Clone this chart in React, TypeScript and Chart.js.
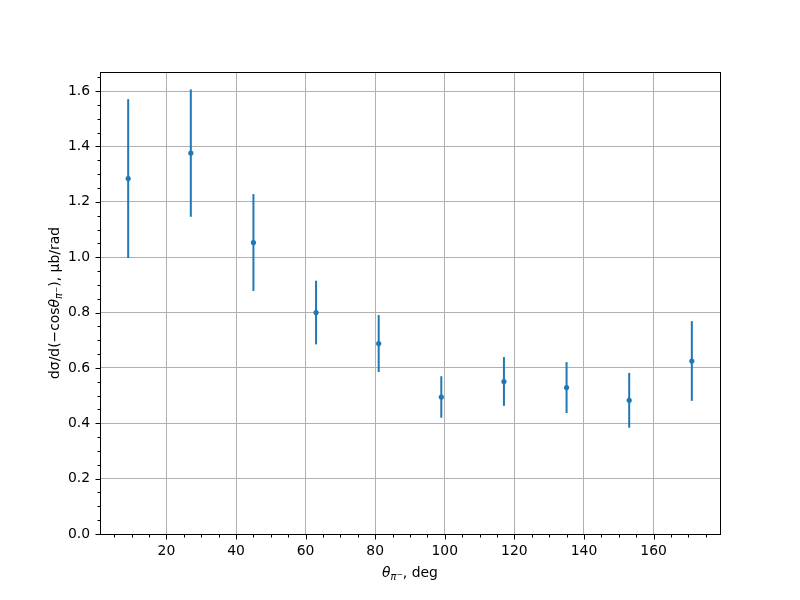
import React, { useEffect, useRef } from "react";
import { Chart, registerables } from "chart.js";

Chart.register(...registerables);

const angles = [9, 27, 45, 63, 81, 99, 117, 135, 153, 171];
const crossSection = [1.284, 1.376, 1.053, 0.8, 0.688, 0.495, 0.551, 0.529, 0.483, 0.625];
const errors = [0.287, 0.23, 0.175, 0.115, 0.103, 0.075, 0.088, 0.092, 0.099, 0.144];

const xMajorTicks = [20, 40, 60, 80, 100, 120, 140, 160];
const xMinorStep = 5;
const yMajorTicks = [0, 0.2, 0.4, 0.6, 0.8, 1.0, 1.2, 1.4, 1.6];
const yMinorStep = 0.05;

const X_MIN = 0.9;
const X_MAX = 179.1;
const Y_MIN = 0;
const Y_MAX = 1.669;

const BLUE = "#1f77b4";
const FONT = "'DejaVu Sans', sans-serif";
const FS = 13.9;

type Part = { t: string; italic?: boolean; scale?: number; dy?: number };

function drawParts(ctx: CanvasRenderingContext2D, parts: Part[], x: number, y: number) {
  const fontOf = (p: Part) => `${p.italic ? "italic " : ""}${FS * (p.scale || 1)}px ${FONT}`;
  let total = 0;
  const widths = parts.map((p) => {
    ctx.font = fontOf(p);
    const w = ctx.measureText(p.t).width;
    total += w;
    return w;
  });
  let cx = x - total / 2;
  ctx.textAlign = "left";
  ctx.textBaseline = "alphabetic";
  parts.forEach((p, i) => {
    ctx.font = fontOf(p);
    ctx.fillText(p.t, cx, y + (p.dy || 0));
    cx += widths[i];
  });
}

const isMajor = (v: number, step: number) => Math.abs(v / step - Math.round(v / step)) < 1e-6;

const subParts: Part[] = [
  { t: "θ", italic: true },
  { t: "π", italic: true, scale: 0.7, dy: 2.5 },
  { t: "−", scale: 0.55, dy: -0.5 },
];

const decorPlugin = {
  id: "decor",
  beforeDatasetsDraw(chart: any) {
    const ctx = chart.ctx as CanvasRenderingContext2D;
    const xs = chart.scales.x;
    const ys = chart.scales.y;
    ctx.save();
    ctx.strokeStyle = BLUE;
    ctx.lineWidth = 2;
    angles.forEach((a, i) => {
      const px = xs.getPixelForValue(a);
      const top = ys.getPixelForValue(crossSection[i] + errors[i]);
      const bot = ys.getPixelForValue(crossSection[i] - errors[i]);
      ctx.beginPath();
      ctx.moveTo(px, top);
      ctx.lineTo(px, bot);
      ctx.stroke();
    });
    ctx.restore();
  },
  afterDraw(chart: any) {
    const ctx = chart.ctx as CanvasRenderingContext2D;
    const { left, right, top, bottom } = chart.chartArea;
    const xs = chart.scales.x;
    const ys = chart.scales.y;
    ctx.save();
    // frame
    ctx.strokeStyle = "#000";
    ctx.lineWidth = 1;
    ctx.strokeRect(Math.round(left) + 0.5, Math.round(top) + 0.5, Math.round(right - left), Math.round(bottom - top));
    // ticks
    xs.ticks.forEach((t: any) => {
      const px = Math.round(xs.getPixelForValue(t.value)) + 0.5;
      const len = isMajor(t.value, 20) ? 5 : 3;
      ctx.beginPath();
      ctx.moveTo(px, Math.round(bottom) + 0.5);
      ctx.lineTo(px, Math.round(bottom) + 0.5 + len);
      ctx.stroke();
    });
    ys.ticks.forEach((t: any) => {
      const py = Math.round(ys.getPixelForValue(t.value)) + 0.5;
      const len = isMajor(t.value, 0.2) ? 5 : 3;
      ctx.beginPath();
      ctx.moveTo(Math.round(left) + 0.5, py);
      ctx.lineTo(Math.round(left) + 0.5 - len, py);
      ctx.stroke();
    });
    // axis titles
    ctx.fillStyle = "#000";
    drawParts(ctx, [...subParts, { t: ", deg" }], (left + right) / 2, 577);
    ctx.save();
    ctx.translate(59, (top + bottom) / 2);
    ctx.rotate(-Math.PI / 2);
    drawParts(ctx, [{ t: "dσ/d(−cos" }, ...subParts, { t: "), μb/rad" }], 0, 0);
    ctx.restore();
    ctx.restore();
  },
};

export default function App() {
  const ref = useRef<HTMLCanvasElement | null>(null);
  useEffect(() => {
    document.body.style.margin = "0";
    if (!ref.current) return;
    const xTickVals: number[] = [];
    for (let v = xMinorStep; v < X_MAX; v += xMinorStep) xTickVals.push(v);
    const yTickVals: number[] = [];
    for (let i = 0; i * yMinorStep <= Y_MAX + 1e-9; i++) yTickVals.push(Math.round(i * yMinorStep * 1000) / 1000);

    const chart = new Chart(ref.current, {
      type: "scatter",
      data: {
        datasets: [
          {
            data: angles.map((a, i) => ({ x: a, y: crossSection[i] })),
            backgroundColor: BLUE,
            borderColor: BLUE,
            borderWidth: 0,
            pointRadius: 2.6,
            pointHoverRadius: 2.6,
            showLine: false,
          },
        ],
      },
      options: {
        animation: false,
        responsive: false,
        events: [],
        layout: { padding: { left: 0, top: 72, right: 80, bottom: 0 } },
        plugins: { legend: { display: false }, tooltip: { enabled: false } },
        scales: {
          x: {
            type: "linear",
            min: X_MIN,
            max: X_MAX,
            afterBuildTicks: (s: any) => {
              s.ticks = xTickVals.map((v) => ({ value: v }));
            },
            afterFit: (s: any) => {
              s.height = 66;
            },
            border: { display: false },
            grid: {
              drawTicks: false,
              lineWidth: 1,
              color: (c: any) => (c.tick && xMajorTicks.includes(c.tick.value) ? "#b0b0b0" : "rgba(0,0,0,0)"),
            },
            ticks: {
              autoSkip: false,
              maxRotation: 0,
              padding: 9,
              color: "#000",
              font: { family: FONT, size: FS },
              callback: (v: any) => (xMajorTicks.includes(Number(v)) ? String(v) : ""),
            },
          },
          y: {
            type: "linear",
            min: Y_MIN,
            max: Y_MAX,
            afterBuildTicks: (s: any) => {
              s.ticks = yTickVals.map((v) => ({ value: v }));
            },
            afterFit: (s: any) => {
              s.width = 100;
            },
            border: { display: false },
            grid: {
              drawTicks: false,
              lineWidth: 1,
              color: (c: any) =>
                c.tick && yMajorTicks.some((m) => Math.abs(m - c.tick.value) < 1e-6) ? "#b0b0b0" : "rgba(0,0,0,0)",
            },
            ticks: {
              autoSkip: false,
              padding: 10,
              color: "#000",
              font: { family: FONT, size: FS },
              callback: (v: any) =>
                yMajorTicks.some((m) => Math.abs(m - Number(v)) < 1e-6) ? Number(v).toFixed(1) : "",
            },
          },
        },
      },
      plugins: [decorPlugin],
    } as any);
    return () => chart.destroy();
  }, []);
  return (
    <div style={{ width: 800, height: 600, background: "#fff" }}>
      <canvas ref={ref} width={800} height={600} style={{ display: "block" }} />
    </div>
  );
}
